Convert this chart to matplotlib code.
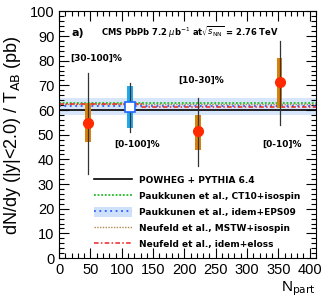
import numpy as np
import matplotlib.pyplot as plt
from matplotlib.ticker import MultipleLocator
from matplotlib.patches import Rectangle
from matplotlib.lines import Line2D

# centrality bins
npart = [46, 352, 222]
yield_vals = [54.7, 71.5, 51.3]
stat_lo = [34.0, 54.0, 37.5]
stat_hi = [75.0, 88.0, 65.0]
syst_lo = [47.0, 61.0, 44.0]
syst_hi = [62.8, 81.0, 58.0]
bin_labels = ["[30-100]%", "[0-10]%", "[10-30]%"]

# minimum bias
mb_npart = 113
mb_val = 61.3
mb_stat = (51.0, 71.0)
mb_syst = (52.6, 69.8)

# theory curves
powheg = 60.0
pauk_ct10 = 63.0
pauk_eps09 = 61.8
pauk_eps09_band = (58.0, 64.8)
neuf_mstw = 62.3
neuf_eloss_x = [0, 133, 133, 410]
neuf_eloss_y = [62.6, 62.6, 61.2, 61.2]

fig = plt.figure(figsize=(3.25, 2.99), dpi=100)
ax = fig.add_axes([0.182, 0.137, 0.79, 0.825])
ax.set_xlim(0, 410)
ax.set_ylim(0, 100)

ax.axhspan(*pauk_eps09_band, color="#cfe0fb", alpha=0.8, lw=0, zorder=1)
ax.axhline(pauk_eps09, color="#2a5cff", ls=(0, (1, 2)), lw=1.3, zorder=2)
ax.axhline(pauk_ct10, color="#22bb22", ls=(0, (1, 1)), lw=1.3, zorder=2)
ax.axhline(neuf_mstw, color="#b08850", ls=(0, (1, 1)), lw=1.0, zorder=2)
ax.plot(neuf_eloss_x, neuf_eloss_y, color="#ee2222", ls=(0, (3, 1.5, 1, 1.5)), lw=1.1, zorder=2)
ax.axhline(powheg, color="black", lw=1.2, zorder=3)

bw = 9
for x, v, sl, sh, s1, s2 in zip(npart, yield_vals, syst_lo, syst_hi, stat_lo, stat_hi):
    ax.add_patch(Rectangle((x - bw / 2, sl), bw, sh - sl, color="#d9810b", lw=0, zorder=4))
    ax.plot([x, x], [s1, s2], color="#333333", lw=0.9, zorder=5)
    ax.plot(x, v, "o", color="#ff2a00", ms=7, zorder=6)

ax.add_patch(Rectangle((mb_npart - bw / 2, mb_syst[0]), bw, mb_syst[1] - mb_syst[0],
                       color="#22aaee", lw=0, zorder=4))
ax.plot([mb_npart, mb_npart], mb_stat, color="#333333", lw=0.9, zorder=5)
ax.plot(mb_npart, mb_val, "s", mfc="white", mec="#2266ff", mew=1.2, ms=7, zorder=6)

tk = dict(fontsize=6.5, fontweight="bold")
ax.text(18, 80, "[30-100]%", **tk)
ax.text(88, 45, "[0-100]%", **tk)
ax.text(190, 71, "[10-30]%", **tk)
ax.text(325, 45, "[0-10]%", **tk)
ax.text(20, 90, "a)", fontsize=8, fontweight="bold")
ax.text(67, 90.5, r"CMS PbPb 7.2 $\mu$b$^{-1}$ at$\sqrt{s_{\rm NN}}$ = 2.76 TeV",
        fontsize=6, fontweight="bold")

handles = [
    Line2D([], [], color="black", lw=1.2),
    Line2D([], [], color="#22bb22", ls=(0, (1, 1)), lw=1.3),
    (Rectangle((0, 0), 1, 1, color="#cfe0fb", lw=0),
     Line2D([], [], color="#2a5cff", ls=(0, (1, 2)), lw=1.3)),
    Line2D([], [], color="#b08850", ls=(0, (1, 1)), lw=1.0),
    Line2D([], [], color="#ee2222", ls=(0, (3, 1.5, 1, 1.5)), lw=1.1),
]
labels = ["POWHEG + PYTHIA 6.4",
          "Paukkunen et al., CT10+isospin",
          "Paukkunen et al., idem+EPS09",
          "Neufeld et al., MSTW+isospin",
          "Neufeld et al., idem+eloss"]
leg = ax.legend(handles, labels, loc="lower left", bbox_to_anchor=(0.1, 0.0),
                frameon=False, prop=dict(size=6.5, weight="bold"),
                handlelength=4.2, handleheight=1.2, labelspacing=0.7, borderaxespad=0.6)

ax.xaxis.set_major_locator(MultipleLocator(50))
ax.xaxis.set_minor_locator(MultipleLocator(10))
ax.yaxis.set_major_locator(MultipleLocator(10))
ax.yaxis.set_minor_locator(MultipleLocator(2))
ax.tick_params(which="both", direction="in", top=True, right=True, labelsize=10.5)
ax.tick_params(which="major", length=7, width=0.8)
ax.tick_params(which="minor", length=3.5, width=0.8)
for lab in ax.get_xticklabels() + ax.get_yticklabels():
    lab.set_fontfamily("Liberation Sans")

ax.set_ylabel(r"dN/dy (|y|<2.0) / T$_{\rm AB}$ (pb)", fontsize=13, family="Liberation Sans")
ax.yaxis.set_label_coords(-0.14, 0.5)
ax.text(1.0, -0.125, r"N$_{\rm part}$", transform=ax.transAxes, ha="right", va="center",
        fontsize=11, family="Liberation Sans")

fig.savefig("out.png", dpi=100)
